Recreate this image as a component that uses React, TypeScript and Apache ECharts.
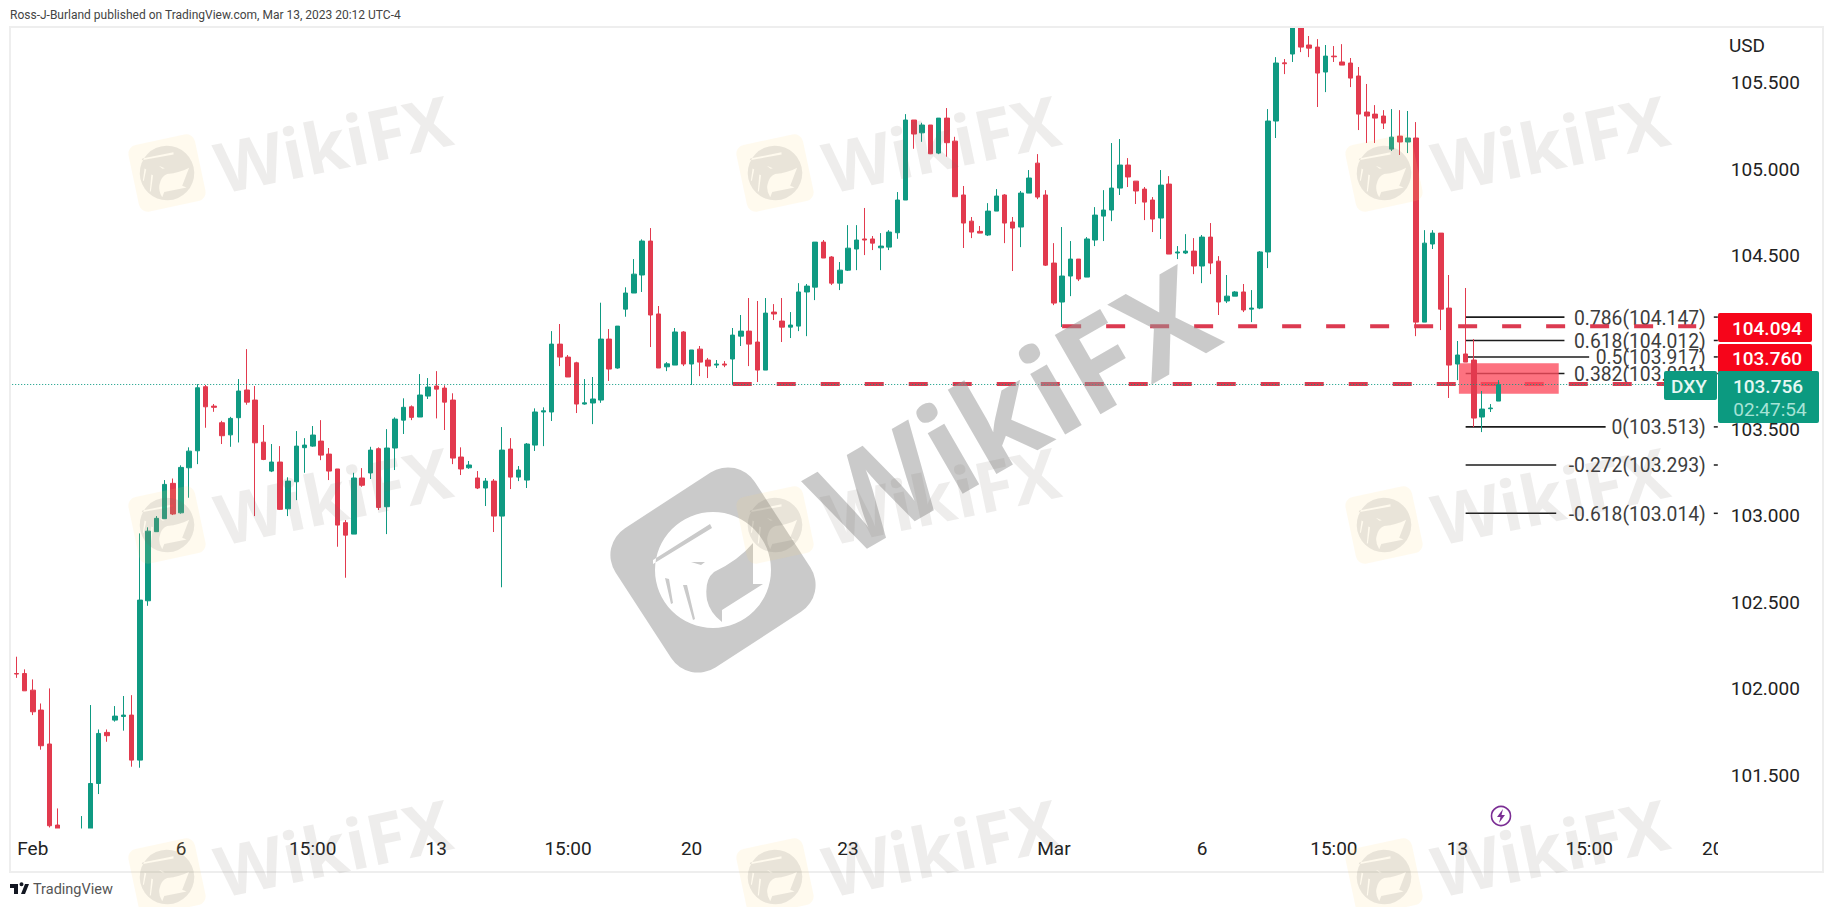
import React, { useEffect, useRef } from "react";
import * as echarts from "echarts";

// ---- price data ----
const opens = [102.089,102.089,101.993,101.878,101.682,101.214,101.14,101.05,101.108,101.147,
101.454,101.749,101.820,101.841,101.849,101.589,102.509,102.908,102.983,103.187,
103.017,103.277,103.375,103.745,103.633,103.537,103.467,103.566,103.726,103.668,
103.425,103.258,103.310,103.040,103.196,103.393,103.402,103.431,103.356,103.270,
102.960,102.894,103.218,103.247,103.387,103.052,103.391,103.552,103.629,103.570,
103.691,103.749,103.737,103.668,103.339,103.277,103.218,103.160,103.200,102.998,
103.385,103.223,103.206,103.408,103.599,103.599,103.991,103.916,103.883,103.645,
103.651,103.668,104.020,103.853,104.193,104.286,104.390,104.586,104.165,103.860,
103.870,104.061,103.876,103.962,103.899,103.870,103.876,103.905,104.037,104.066,
104.003,103.841,104.176,104.124,104.089,104.095,104.292,104.320,104.580,104.494,
104.343,104.418,104.540,104.598,104.598,104.547,104.551,104.634,104.823,105.285,
105.211,105.256,105.094,105.296,105.163,104.852,104.701,104.642,104.621,104.759,
104.852,104.696,104.667,104.863,105.036,104.852,104.459,104.234,104.384,104.482,
104.378,104.592,104.730,104.765,104.892,105.025,104.932,104.886,104.823,104.719,
104.915,104.517,104.517,104.528,104.442,104.609,104.470,104.240,104.268,104.292,
104.193,104.199,104.523,105.279,105.615,105.666,105.84,105.718,105.706,105.562,
105.654,105.620,105.614,105.539,105.331,105.319,105.308,105.117,105.192,105.158,
105.181,104.118,104.569,104.632,104.199,103.876,103.934,103.899,103.570,103.618,103.662];

const closes = [102.086,101.989,101.868,101.672,101.210,101.147,101.08,101.12,101.166,101.454,
101.743,101.730,101.843,101.849,101.589,102.513,102.911,102.985,103.181,103.010,
103.279,103.373,103.739,103.629,103.626,103.462,103.562,103.720,103.656,103.421,
103.325,103.310,103.037,103.200,103.402,103.408,103.466,103.350,103.258,102.946,
102.888,103.218,103.176,103.379,103.048,103.391,103.558,103.626,103.568,103.697,
103.743,103.731,103.656,103.333,103.270,103.293,103.160,103.200,102.998,103.379,
103.223,103.264,103.414,103.599,103.606,103.991,103.916,103.801,103.645,103.652,
103.674,104.020,103.847,104.095,104.286,104.395,104.586,104.159,103.853,103.877,
104.061,103.876,103.957,103.887,103.864,103.876,103.870,104.043,104.066,103.991,
103.841,104.170,104.165,104.089,104.101,104.292,104.326,104.580,104.488,104.343,
104.418,104.545,104.592,104.592,104.574,104.557,104.638,104.823,105.285,105.204,
105.256,105.090,105.296,105.154,104.842,104.690,104.638,104.632,104.759,104.846,
104.690,104.661,104.863,104.950,104.840,104.447,104.228,104.384,104.482,104.367,
104.598,104.736,104.765,104.892,105.025,104.956,104.875,104.811,104.713,104.909,
104.511,104.523,104.528,104.442,104.609,104.459,104.234,104.268,104.292,104.188,
104.199,104.523,105.279,105.614,105.610,105.86,105.706,105.700,105.556,105.654,
105.650,105.602,105.527,105.319,105.308,105.296,105.267,105.186,105.158,105.181,
104.118,104.574,104.632,104.193,103.870,103.928,103.887,103.564,103.616,103.622,103.756];

const lows = [102.064,101.989,101.849,101.649,101.200,101.147,101.02,101.0,101.09,101.137,
101.393,101.695,101.811,101.759,101.551,101.545,102.480,102.908,102.983,103.004,
103.012,103.104,103.298,103.508,103.600,103.414,103.398,103.423,103.641,102.998,
103.321,103.252,103.033,102.998,103.090,103.248,103.398,103.321,103.206,102.821,
102.642,102.894,103.167,103.212,103.033,102.894,103.264,103.472,103.552,103.570,
103.674,103.562,103.495,103.298,103.235,103.271,103.154,103.056,102.906,102.587,
103.154,103.200,103.160,103.374,103.402,103.547,103.864,103.801,103.593,103.641,
103.529,103.652,103.778,103.849,104.149,104.286,104.292,103.974,103.853,103.835,
103.870,103.864,103.755,103.806,103.795,103.853,103.858,103.760,103.980,103.864,
103.772,103.841,104.130,104.003,104.026,104.066,104.037,104.245,104.488,104.332,
104.303,104.413,104.418,104.505,104.534,104.418,104.534,104.599,104.823,105.119,
105.159,105.088,105.088,105.073,104.842,104.546,104.603,104.632,104.615,104.759,
104.574,104.413,104.551,104.863,104.828,104.442,104.216,104.090,104.268,104.355,
104.378,104.557,104.586,104.701,104.852,104.898,104.800,104.707,104.638,104.598,
104.511,104.482,104.511,104.395,104.343,104.395,104.159,104.228,104.268,104.176,
104.118,104.193,104.430,105.181,105.550,105.620,105.677,105.648,105.360,105.446,
105.620,105.602,105.475,105.227,105.152,105.152,105.233,105.106,105.083,105.094,
104.037,104.118,104.540,104.072,103.680,103.783,103.887,103.512,103.483,103.599,103.662];

const highs = [102.186,102.113,102.055,101.916,102.003,101.310,101.17,101.16,101.266,101.907,
101.766,101.766,101.901,101.959,101.964,102.898,102.933,102.998,103.206,103.215,
103.291,103.395,103.760,103.755,103.645,103.548,103.571,103.789,103.962,103.749,
103.524,103.414,103.402,103.222,103.489,103.448,103.518,103.552,103.391,103.270,
102.975,103.248,103.275,103.398,103.395,103.500,103.568,103.678,103.637,103.818,
103.795,103.835,103.753,103.707,103.395,103.316,103.258,103.218,103.212,103.512,
103.448,103.287,103.420,103.620,103.626,104.066,104.107,103.928,103.889,103.789,
103.801,104.230,104.078,104.095,104.319,104.482,104.596,104.661,104.211,103.887,
104.084,104.066,103.957,103.980,103.911,103.899,103.893,104.084,104.159,104.257,
104.240,104.257,104.222,104.257,104.176,104.343,104.338,104.580,104.592,104.499,
104.465,104.678,104.678,104.777,104.615,104.632,104.649,104.869,105.319,105.285,
105.269,105.256,105.296,105.354,105.188,104.904,104.725,104.673,104.805,104.886,
104.857,104.725,104.875,104.996,105.088,104.880,104.574,104.667,104.586,104.482,
104.609,104.782,104.880,105.152,105.175,105.065,104.932,104.898,104.840,104.996,
104.961,104.557,104.626,104.603,104.621,104.690,104.499,104.390,104.297,104.338,
104.303,104.528,105.348,105.648,105.637,105.90,105.88,105.770,105.752,105.718,
105.712,105.723,105.643,105.591,105.493,105.371,105.342,105.348,105.342,105.337,
105.273,104.649,104.649,104.632,104.390,104.009,104.315,104.020,103.720,103.645,103.783];

// time-axis tick labels: category index -> label
const timeTickIndex = [2, 20, 36, 51, 67, 82, 101, 126, 144, 160, 175, 191, 206];
const timeTickLabel = ["Feb", "6", "15:00", "13", "15:00", "20", "23", "Mar", "6", "15:00", "13", "15:00", "20"];
const categoryCount = 207;
const categories: string[] = Array.from({ length: categoryCount }, (_, i) => {
  const k = timeTickIndex.indexOf(i);
  return k >= 0 ? timeTickLabel[k] : "";
});

const priceTicks = [101.5, 102, 102.5, 103, 103.5, 104.5, 105, 105.5];

// Fibonacci retracement levels
const fibRatios = ["0.786", "0.618", "0.5", "0.382", "0", "-0.272", "-0.618"];
const fibPrices = [104.147, 104.012, 103.917, 103.821, 103.513, 103.293, 103.014];
const fibStart = 176;
const fibEnds = [188, 188, 191, 188, 193, 187, 187];

// dashed support / resistance levels: [price, from, to]
const upperLevel = 104.094;
const lowerLevel = 103.76;
const lastPrice = 103.756;
const zoneHigh = 103.88;
const zoneLow = 103.705;
const zoneFrom = 175;
const zoneTo = 187;

const UP = "#0f9a82";
const DOWN = "#e23a4e";
const FONT = "Roboto";
const deg = (d: number) => (d * Math.PI) / 180;

echarts.graphic.registerShape(
  "wfxEagle",
  echarts.graphic.extendPath(
    "M-58 0A58 58 0 1 1 58 0A58 58 0 1 1 -58 0Z" +
      "M-60 -10L-60 -6L-1 -42L-3 -46Z" +
      "M40 -27Q26 -10 1 2Q-9 10 -6 30Q-3 43 9 52L9 40L50 14L40 14Z" +
      "M-22 -8L-12 -5L-8 -8Z" +
      "M-48 8L-42 34L-40 33L-44 9Z" +
      "M-30 15L-20 50L-18 49L-26 15Z",
    {}
  )
);
echarts.graphic.registerShape(
  "tvLogo",
  echarts.graphic.extendPath("M0 0H8V10H4V4H0Z M9.5 0.2A2 2 0 1 0 13.5 0.2A2 2 0 1 0 9.5 0.2Z M11 10L15 0H19L15 10Z", {})
);
echarts.graphic.registerShape("boltIcon", echarts.graphic.extendPath("M2 -7L-4 1H-0.5L-2 7L4 -1H0.5Z", {}));

function watermarks(): any[] {
  const out: any[] = [];
  // big centre watermark
  out.push({
    type: "rect", x: 713, y: 570, rotation: deg(33), z: 60, silent: true,
    shape: { x: -83, y: -83, width: 166, height: 166, r: 32 },
    style: { fill: "rgba(150,150,150,0.5)" },
  });
  out.push({
    type: "wfxEagle", x: 713, y: 570, z: 61, silent: true,
    style: { fill: "#ffffff" },
  });
  out.push({
    type: "text", x: 1011, y: 408, rotation: deg(30), z: 60, silent: true,
    style: { text: "WikiFX", font: `700 128px "Open Sans"`, fill: "rgba(150,150,150,0.5)", align: "center", verticalAlign: "middle" },
  });
  const cols = [167, 775, 1384];
  const rows = [173, 525, 877];
  for (const cx of cols) {
    for (const cy of rows) {
      out.push({
        type: "rect", x: cx, y: cy, rotation: deg(12), z: 62, silent: true,
        shape: { x: -34, y: -34, width: 68, height: 68, r: 9 },
        style: { fill: "rgba(255,214,120,0.13)" },
      });
      out.push({
        type: "wfxEagle", x: cx, y: cy, rotation: deg(-21), scaleX: 0.47, scaleY: 0.47, z: 63, silent: true,
        style: { fill: "rgba(110,105,100,0.15)" },
      });
      out.push({
        type: "text", x: cx + 166, y: cy - 30, rotation: deg(12), z: 62, silent: true,
        style: { text: "WikiFX", font: `700 70px "Open Sans"`, fill: "rgba(115,105,100,0.12)", align: "center", verticalAlign: "middle" },
      });
    }
  }
  return out;
}

function badge(x: number, y: number, w: number, h: number, fill: string, z: number) {
  return { type: "rect", silent: true, z, shape: { x, y, width: w, height: h, r: 2 }, style: { fill } };
}
function label(text: string, x: number, y: number, fill: string, size: number, z: number, align = "center", weight = 400) {
  return {
    type: "text", silent: true, z, x, y,
    style: { text, fill, align, verticalAlign: "middle", font: `${weight} ${size}px ${FONT}` },
  };
}

function chrome(): any[] {
  return [
    // covers for what a candlestick series draws past the pane
    { type: "rect", silent: true, z: 5, shape: { x: 0, y: 0, width: 1834, height: 26.5 }, style: { fill: "#ffffff" } },
    { type: "rect", silent: true, z: 5, shape: { x: 0, y: 828.5, width: 1718, height: 43 }, style: { fill: "#ffffff" } },
    { type: "rect", silent: true, z: 6, shape: { x: 10, y: 27, width: 1813, height: 845 }, style: { fill: "transparent", stroke: "#eeeeee", lineWidth: 2 } },
    // the last time label is cut by the price scale
    { type: "rect", silent: true, z: 12, shape: { x: 1718, y: 832, width: 40, height: 36 }, style: { fill: "#ffffff" } },
    label("Ross-J-Burland published on TradingView.com, Mar 13, 2023 20:12 UTC-4", 10, 15, "#444444", 12, 50, "left"),
    label("USD", 1729, 45, "#222222", 19, 50, "left"),
    badge(1718, 313, 94, 29, "#f6051a", 50),
    label(upperLevel.toFixed(3), 1767, 328, "#ffffff", 19, 51, "center", 500),
    badge(1718, 344, 94, 29, "#f6051a", 50),
    label(lowerLevel.toFixed(3), 1767, 358, "#ffffff", 19, 51, "center", 500),
    badge(1664, 371, 53, 29, "#0c9a80", 50),
    label("DXY", 1689, 386, "#e6f7f3", 19, 51, "center", 500),
    badge(1718, 371, 101, 52, "#0c9a80", 50),
    label(lastPrice.toFixed(3), 1768, 386, "#e6f7f3", 19, 51, "center", 500),
    label("02:47:54", 1770, 409, "#a6e3d6", 19, 51, "center", 400),
    { type: "circle", silent: true, z: 50, shape: { cx: 1501, cy: 816, r: 9.5 }, style: { fill: "#ffffff", stroke: "#7b2e94", lineWidth: 1.6 } },
    { type: "boltIcon", silent: true, z: 51, x: 1501, y: 816, style: { fill: "#7b2e94" } },
    { type: "tvLogo", silent: true, z: 50, x: 10, y: 884, style: { fill: "#131722" } },
    label("TradingView", 33, 889, "#555555", 14.5, 50, "left"),
  ];
}

export default function App() {
  const ref = useRef<HTMLDivElement>(null);
  useEffect(() => {
    document.body.style.margin = "0";
    const chart = echarts.init(ref.current!, undefined, { renderer: "svg" });
    const candleData = opens.map((o, i) => [o, closes[i], lows[i], highs[i]]);
    const option: any = {
      animation: false,
      backgroundColor: "#ffffff",
      textStyle: { fontFamily: FONT },
      grid: { left: 12.2, right: 117.2, top: 27, bottom: 79, containLabel: false },
      xAxis: {
        type: "category",
        data: categories,
        boundaryGap: true,
        z: 10,
        axisLine: { show: false },
        axisTick: { show: false },
        splitLine: { show: false },
        axisLabel: {
          interval: (_: number, v: string) => v !== "",
          color: "#222222",
          fontSize: 19,
          fontFamily: FONT,
          margin: 11,
          hideOverlap: false,
        },
      },
      yAxis: {
        type: "value",
        position: "right",
        min: 101.197,
        max: 105.822,
        scale: true,
        axisLine: { show: false },
        axisTick: { show: false },
        splitLine: { show: false },
        axisLabel: {
          customValues: priceTicks,
          formatter: (v: number) => v.toFixed(3),
          color: "#222222",
          fontSize: 19,
          fontFamily: FONT,
          margin: 14,
        },
      },
      graphic: { elements: [...chrome(), ...watermarks()] },
      series: [
        {
          type: "line", z: 1, symbol: "none", silent: true,
          data: [[127, upperLevel], [204, upperLevel]],
          lineStyle: { color: "#dc3a50", width: 4, type: [19, 25] },
        },
        {
          type: "line", z: 1, symbol: "none", silent: true,
          data: [[87, lowerLevel], [206, lowerLevel]],
          lineStyle: { color: "#dc3a50", width: 4, type: [19, 25] },
        },
        {
          type: "custom", z: 1, silent: true, clip: false,
          data: fibPrices.map((p, i) => [fibStart, p, fibEnds[i]]),
          encode: { x: 0, y: 1 },
          renderItem: (params: any, api: any) => {
            const i = params.dataIndex;
            const a = api.coord([api.value(0), api.value(1)]);
            const b = api.coord([api.value(2), api.value(1)]);
            const right = params.coordSys.x + params.coordSys.width;
            return {
              type: "group",
              children: [
                { type: "line", shape: { x1: a[0], y1: a[1], x2: b[0], y2: a[1] }, style: { stroke: "#1c1c1c", lineWidth: 1.6 } },
                {
                  type: "text", x: right - 11, y: a[1] + 1,
                  style: { text: `${fibRatios[i]}(${fibPrices[i].toFixed(3)})`, fill: "#3d3d3d", align: "right", verticalAlign: "middle", font: `400 19.3px ${FONT}` },
                },
                { type: "line", shape: { x1: right - 3, y1: a[1], x2: right + 1, y2: a[1] }, style: { stroke: "#1c1c1c", lineWidth: 1.5 } },
              ],
            };
          },
        },
        {
          type: "custom", z: 2, silent: true,
          data: [[zoneFrom, zoneHigh, zoneTo, zoneLow]],
          encode: { x: 0, y: 1 },
          renderItem: (_: any, api: any) => {
            const a = api.coord([api.value(0), api.value(1)]);
            const b = api.coord([api.value(2), api.value(3)]);
            return {
              type: "rect",
              shape: { x: a[0] + 1.5, y: a[1], width: b[0] - a[0] + 1, height: b[1] - a[1] },
              style: { fill: "rgba(253,74,92,0.78)" },
            };
          },
        },
        {
          type: "candlestick", z: 3,
          data: candleData,
          barWidth: 5,
          clip: true,
          itemStyle: { color: UP, color0: DOWN, borderColor: UP, borderColor0: DOWN, borderWidth: 1 },
          markLine: {
            silent: true,
            symbol: ["none", "none"],
            label: { show: false },
            lineStyle: { color: "#089981", type: [1, 2], width: 1 },
            data: [{ yAxis: lastPrice }],
          },
        },
      ],
    };
    chart.setOption(option);
    return () => chart.dispose();
  }, []);
  return <div ref={ref} style={{ position: "fixed", left: 0, top: 0, width: 1834, height: 907, background: "#fff" }} />;
}
